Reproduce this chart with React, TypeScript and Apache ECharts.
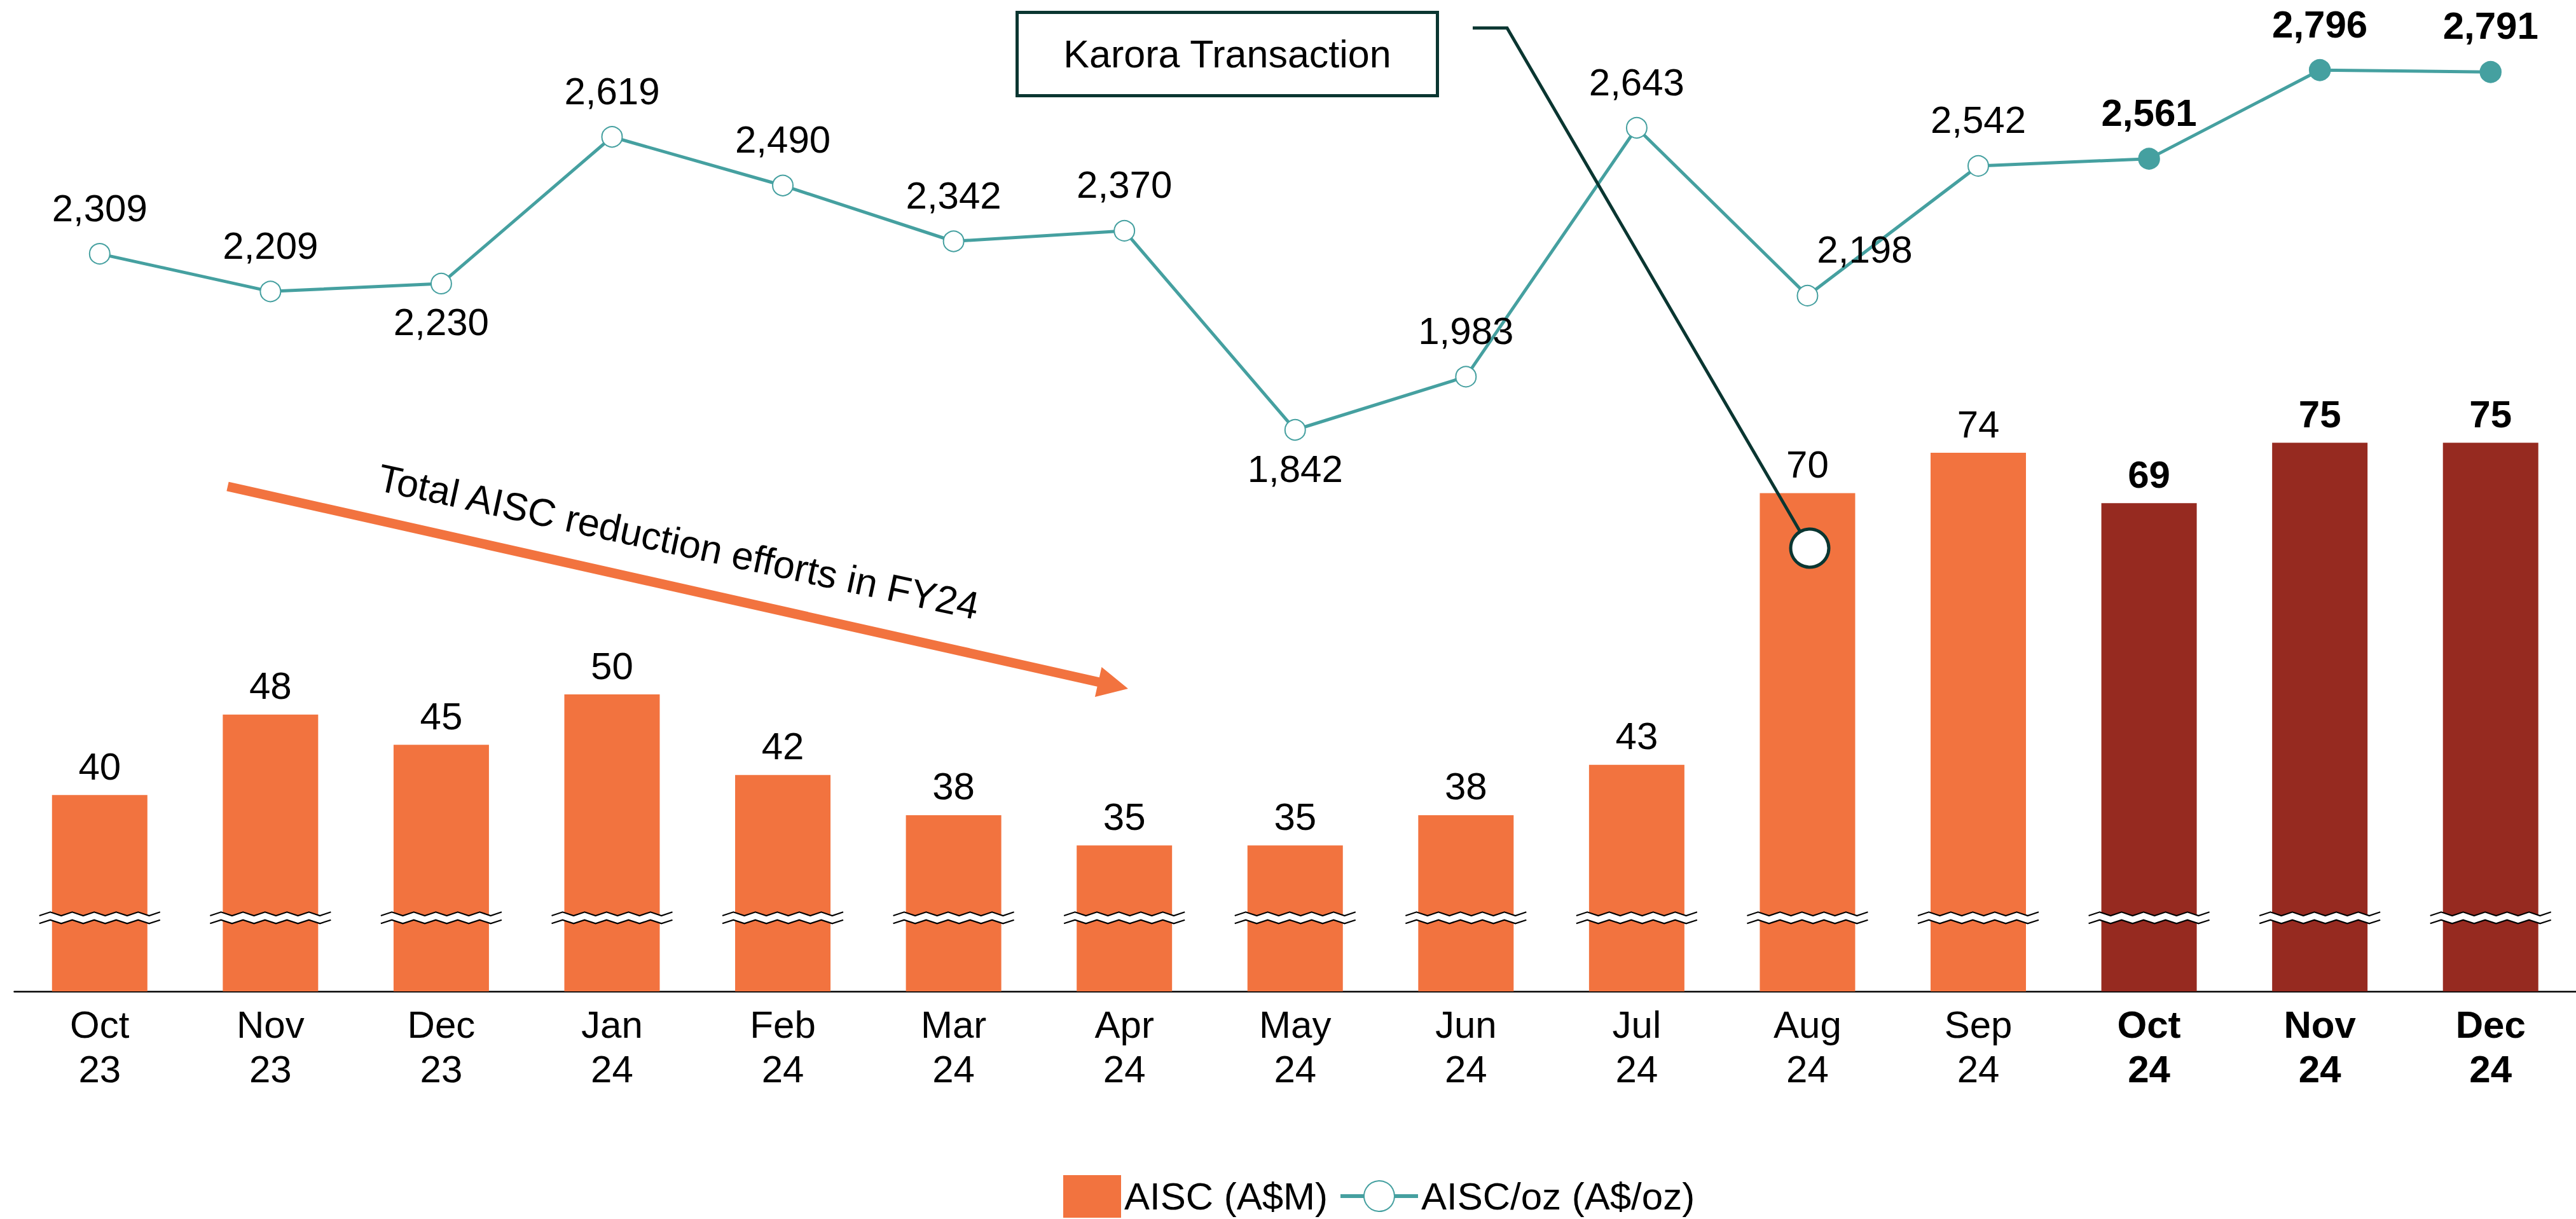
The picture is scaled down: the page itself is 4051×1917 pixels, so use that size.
import React, { useEffect, useRef } from "react";
import * as echarts from "echarts";

// ---------- data ----------
const categories = [
  "Oct\n23", "Nov\n23", "Dec\n23", "Jan\n24", "Feb\n24", "Mar\n24", "Apr\n24", "May\n24",
  "Jun\n24", "Jul\n24", "Aug\n24", "Sep\n24", "Oct\n24", "Nov\n24", "Dec\n24",
];
const aiscValues = [40, 48, 45, 50, 42, 38, 35, 35, 38, 43, 70, 74, 69, 75, 75];
const aiscPerOzValues = [2309, 2209, 2230, 2619, 2490, 2342, 2370, 1842, 1983, 2643, 2198, 2542, 2561, 2796, 2791];
const highlightFrom = 12; // Oct 24 onward: bold / dark
const labelsBelow = [2, 7]; // Dec 23, May 24
const labelShiftedRight = [10]; // Aug 24
const barSeriesName = "AISC (A$M)";
const lineSeriesName = "AISC/oz (A$/oz)";
const annotationText = "Karora Transaction";
const arrowText = "Total AISC reduction efforts in FY24";

// ---------- style ----------
const FONT = "Liberation Sans";
const FS = 60;
const ORANGE = "#F2733F";
const DARK_RED = "#962A20";
const TEAL = "#45A0A0";
const DARK_GREEN = "#0A3631";
const BAR_MIN = 20.5;
const BAR_MAX = 116.46;
const LINE_MIN = 353;
const LINE_MAX = 2914.5;
const BAR_WIDTH = 150;

function fmt(v: number) {
  return v.toLocaleString("en-US");
}

function arrowPolygon() {
  const tail = [358, 765];
  const tip = [1774, 1083];
  const dx = tip[0] - tail[0];
  const dy = tip[1] - tail[1];
  const len = Math.sqrt(dx * dx + dy * dy);
  const u = [dx / len, dy / len];
  const n = [-u[1], u[0]];
  const hw = 7.5, hl = 48, hh = 24;
  const hb = [tip[0] - u[0] * hl, tip[1] - u[1] * hl];
  const p = (b: number[], s: number) => [b[0] + n[0] * s, b[1] + n[1] * s];
  return [p(tail, -hw), p(hb, -hw), p(hb, -hh), tip, p(hb, hh), p(hb, hw), p(tail, hw)];
}

export default function App() {
  const ref = useRef<HTMLDivElement>(null);
  useEffect(() => {
    if (!ref.current) return;
    const chart = echarts.init(ref.current, undefined, { renderer: "svg" });

    const xData = categories.map((c, i) =>
      i >= highlightFrom ? { value: c, textStyle: { fontWeight: "bold" } } : c
    );

    const barData = aiscValues.map((v, i) => ({
      value: v,
      itemStyle: { color: i >= highlightFrom ? DARK_RED : ORANGE },
      label: i >= highlightFrom ? { fontWeight: "bold" } : undefined,
    }));

    const lineData = aiscPerOzValues.map((v, i) => {
      const item: any = { value: v };
      const label: any = {};
      if (labelsBelow.includes(i)) {
        label.position = "bottom";
        label.distance = 14;
      }
      if (labelShiftedRight.includes(i)) label.offset = [90, 0];
      if (i >= highlightFrom) {
        label.fontWeight = "bold";
        item.symbol = "circle";
        item.itemStyle = { color: TEAL, borderColor: TEAL };
      }
      item.label = label;
      return item;
    });

    const option: any = {
      animation: false,
      backgroundColor: "#fff",
      textStyle: { fontFamily: FONT },
      grid: { left: 22.5, width: 4035, top: 40, bottom: 358, containLabel: false },
      legend: [
        {
          data: [barSeriesName],
          left: 1672,
          top: 1848,
          itemWidth: 91,
          itemHeight: 67,
          icon: "rect",
          padding: 0,
          textStyle: { fontSize: FS, color: "#000", fontFamily: FONT },
        },
        {
          data: [lineSeriesName],
          left: 2105,
          top: 1851,
          itemWidth: 122,
          itemHeight: 60,
          padding: 0,
          lineStyle: { width: 6, color: TEAL },
          itemStyle: { borderWidth: 2.5 },
          textStyle: { fontSize: FS, color: "#000", fontFamily: FONT },
        },
      ],
      xAxis: {
        type: "category",
        data: xData,
        boundaryGap: true,
        axisLine: { show: true, lineStyle: { color: "#000", width: 2.5 } },
        axisTick: { show: false },
        axisLabel: {
          interval: 0,
          fontSize: FS,
          lineHeight: 70,
          margin: 17,
          color: "#000",
          fontFamily: FONT,
        },
      },
      yAxis: [
        { type: "value", min: BAR_MIN, max: BAR_MAX, show: false, splitLine: { show: false } },
        { type: "value", min: LINE_MIN, max: LINE_MAX, show: false, splitLine: { show: false } },
      ],
      series: [
        {
          name: barSeriesName,
          type: "bar",
          data: barData,
          barWidth: BAR_WIDTH,
          itemStyle: { color: ORANGE },
          z: 2,
          label: {
            show: true,
            position: "top",
            distance: 15,
            fontSize: FS,
            lineHeight: FS,
            color: "#000",
            fontFamily: FONT,
          },
        },
        {
          name: "break",
          type: "custom",
          data: aiscValues.map((v, i) => [i, v]),
          z: 3,
          silent: true,
          renderItem: (params: any, api: any) => {
            const idx = api.value(0);
            const base = api.coord([idx, BAR_MIN]);
            const cx = base[0];
            const ay = base[1];
            const half = BAR_WIDTH / 2 + 20;
            const nSeg = 11;
            const step = (2 * half) / nSeg;
            const upper: number[][] = [];
            const lower: number[][] = [];
            for (let k = 0; k <= nSeg; k++) {
              const x = cx - half + k * step;
              const high = k % 2 === 1;
              upper.push([x, ay - (high ? 124.7 : 119)]);
              lower.push([x, ay - (high ? 112.3 : 106.7)]);
            }
            return {
              type: "group",
              children: [
                {
                  type: "polygon",
                  shape: { points: [...upper, ...lower.slice().reverse()] },
                  style: { fill: "#fff", stroke: null },
                },
                {
                  type: "polyline",
                  shape: { points: upper },
                  style: { stroke: "#000", lineWidth: 2.2, fill: null },
                },
                {
                  type: "polyline",
                  shape: { points: lower },
                  style: { stroke: "#000", lineWidth: 2.2, fill: null },
                },
              ],
            };
          },
        },
        {
          name: lineSeriesName,
          type: "line",
          yAxisIndex: 1,
          data: lineData,
          z: 4,
          symbol: "emptyCircle",
          symbolSize: 32,
          itemStyle: { color: TEAL, borderColor: TEAL, borderWidth: 2.5 },
          lineStyle: { color: TEAL, width: 5 },
          label: {
            show: true,
            position: "top",
            distance: 25,
            fontSize: FS,
            lineHeight: FS,
            color: "#000",
            fontFamily: FONT,
            formatter: (p: any) => fmt(p.value),
          },
        },
      ],
      graphic: [
        {
          type: "polygon",
          z: 50,
          shape: { points: arrowPolygon() },
          style: { fill: ORANGE, stroke: null },
        },
        {
          type: "text",
          z: 51,
          x: 1067,
          y: 852,
          rotation: (-12.2 * Math.PI) / 180,
          style: {
            text: arrowText,
            fontSize: 61,
            fontFamily: FONT,
            fill: "#000",
            textAlign: "center",
            textVerticalAlign: "middle",
          },
        },
        {
          type: "rect",
          z: 60,
          shape: { x: 1599.5, y: 19.5, width: 661, height: 131 },
          style: { fill: "#fff", stroke: DARK_GREEN, lineWidth: 5 },
        },
        {
          type: "text",
          z: 61,
          x: 1930,
          y: 85,
          style: {
            text: annotationText,
            fontSize: 61,
            fontFamily: FONT,
            fill: "#000",
            textAlign: "center",
            textVerticalAlign: "middle",
          },
        },
        {
          type: "polyline",
          z: 60,
          shape: { points: [[2316, 44], [2370, 44], [2846, 862]] },
          style: { stroke: DARK_GREEN, lineWidth: 5, fill: null },
        },
        {
          type: "circle",
          z: 62,
          shape: { cx: 2846, cy: 862, r: 30 },
          style: { fill: "#fff", stroke: DARK_GREEN, lineWidth: 5 },
        },
      ],
    };

    chart.setOption(option);
    return () => chart.dispose();
  }, []);

  return (
    <div
      ref={ref}
      style={{ position: "absolute", left: 0, top: 0, width: 4051, height: 1917, background: "#fff" }}
    />
  );
}
